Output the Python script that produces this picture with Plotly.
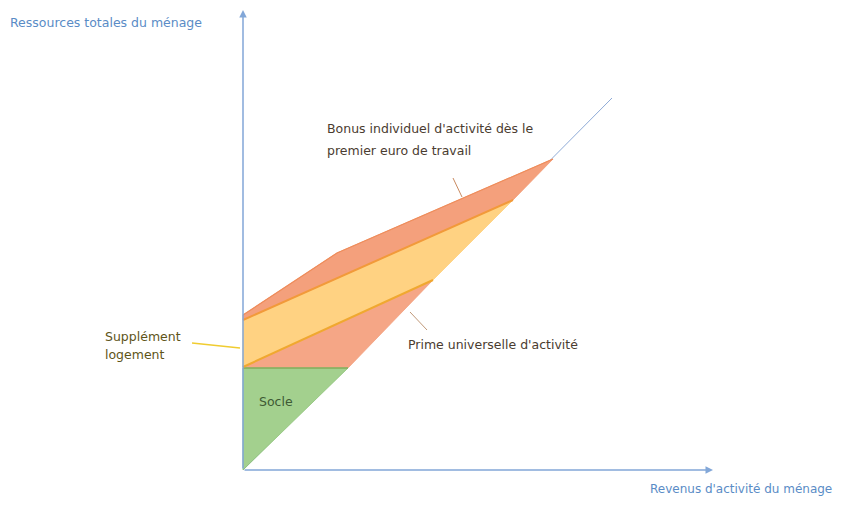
import plotly.graph_objects as go

# ---- Diagram data (abstract units: revenus d'activité vs ressources totales) ----
# 45° line : ressources = revenus d'activité
DIAG_X = [0, 369]
DIAG_Y = [0, 372]

# Socle
SOCLE_X = [0, 0, 105, 0]
SOCLE_Y = [0, 102, 102, 0]

# Prime universelle d'activité (lower salmon band)
PUA_X = [0, 105, 190, 0]
PUA_Y = [102, 102, 190, 103]

# Supplément logement (yellow band)
LOG_X = [0, 190, 270, 0, 0]
LOG_Y = [103, 190, 270, 150, 103]

# Bonus individuel d'activité (upper salmon band)
BONUS_X = [0, 270, 310, 94, 0, 0]
BONUS_Y = [150, 270, 311, 217, 155, 150]

# Edge lines
LOG_LOW_X, LOG_LOW_Y = [0, 190], [103, 190]
LOG_UP_X, LOG_UP_Y = [0, 270], [150, 270]
BONUS_TOP_X, BONUS_TOP_Y = [0, 94, 310], [155, 217, 311]
SOCLE_TOP_X, SOCLE_TOP_Y = [0, 105], [102, 102]

# Leader lines for labels
LEAD_BONUS_X, LEAD_BONUS_Y = [210, 219], [292, 273]
LEAD_LOG_X, LEAD_LOG_Y = [-51, -3], [127, 122]
LEAD_PUA_X, LEAD_PUA_Y = [167, 184], [158, 140]

# Axes extent
X_AXIS_END = 470
Y_AXIS_END = 460

# Labels
Y_TITLE = "Ressources totales du ménage"
X_TITLE = "Revenus d'activité du ménage"
LBL_BONUS = ["Bonus individuel d'activité dès le", "premier euro de travail"]
LBL_LOG = ["Supplément", "logement"]
LBL_PUA = "Prime universelle d'activité"
LBL_SOCLE = "Socle"

FONT = "DejaVu Sans"
FSIZE = 12.5

fig = go.Figure()

fig.add_trace(go.Scatter(x=DIAG_X, y=DIAG_Y, mode="lines",
                         line=dict(color="#8eaad6", width=1), hoverinfo="skip"))

def poly(xs, ys, fill, line_color, width=0.8):
    fig.add_trace(go.Scatter(x=xs, y=ys, mode="lines", fill="toself",
                             fillcolor=fill, line=dict(color=line_color, width=width),
                             hoverinfo="skip"))

poly(SOCLE_X, SOCLE_Y, "#a3d08e", "#8cc276")
poly(PUA_X, PUA_Y, "#f5a686", "#f3a07e")
poly(LOG_X, LOG_Y, "#ffd282", "#ffcf7a")
poly(BONUS_X, BONUS_Y, "#f4a07c", "#f29a74")

def line(xs, ys, color, width=1.5):
    fig.add_trace(go.Scatter(x=xs, y=ys, mode="lines",
                             line=dict(color=color, width=width), hoverinfo="skip"))

line(SOCLE_TOP_X, SOCLE_TOP_Y, "#7bb35e", 1.5)
line(LOG_LOW_X, LOG_LOW_Y, "#f0a830", 2)
line(LOG_UP_X, LOG_UP_Y, "#f29a3a", 2)
line(BONUS_TOP_X, BONUS_TOP_Y, "#ee8c5a", 1.2)

line(LEAD_BONUS_X, LEAD_BONUS_Y, "#c98a60", 1)
line(LEAD_LOG_X, LEAD_LOG_Y, "#f0cc30", 1.5)
line(LEAD_PUA_X, LEAD_PUA_Y, "#c09878", 1)

# Axis arrows
arrow_color = "#82a7d8"
fig.add_annotation(x=X_AXIS_END, y=0, ax=0, ay=0, xref="x", yref="y",
                   axref="x", ayref="y", showarrow=True, arrowhead=2,
                   arrowsize=1, arrowwidth=1.5, arrowcolor=arrow_color, text="")
fig.add_annotation(x=0, y=Y_AXIS_END, ax=0, ay=0, xref="x", yref="y",
                   axref="x", ayref="y", showarrow=True, arrowhead=2,
                   arrowsize=1, arrowwidth=1.5, arrowcolor=arrow_color, text="")

def label(x, y, text, color, anchor="left", size=FSIZE):
    fig.add_annotation(x=x, y=y, xref="x", yref="y", text=text, showarrow=False,
                       xanchor=anchor, yanchor="middle",
                       font=dict(family=FONT, size=size, color=color))

label(-235, 448, Y_TITLE, "#5a8cc6")
label(591, -19, X_TITLE, "#5a8cc6", anchor="right", size=12)
label(82, 342, LBL_BONUS[0], "#4a3c30")
label(82, 320, LBL_BONUS[1], "#4a3c30")
label(-140, 134, LBL_LOG[0], "#5e5418")
label(-140, 116, LBL_LOG[1], "#5e5418")
label(163, 126, LBL_PUA, "#4a3c30")
label(14, 69, LBL_SOCLE, "#3e5a34")

# Page has an 8px body margin: size the figure so it fits the 842x507 window
fig.update_layout(
    width=826, height=491,
    margin=dict(l=0, r=0, t=0, b=0),
    paper_bgcolor="white", plot_bgcolor="white",
    showlegend=False,
    xaxis=dict(range=[-235, 591], visible=False, fixedrange=True),
    yaxis=dict(range=[-29, 462], visible=False, fixedrange=True),
)

fig.write_html("out.html")
